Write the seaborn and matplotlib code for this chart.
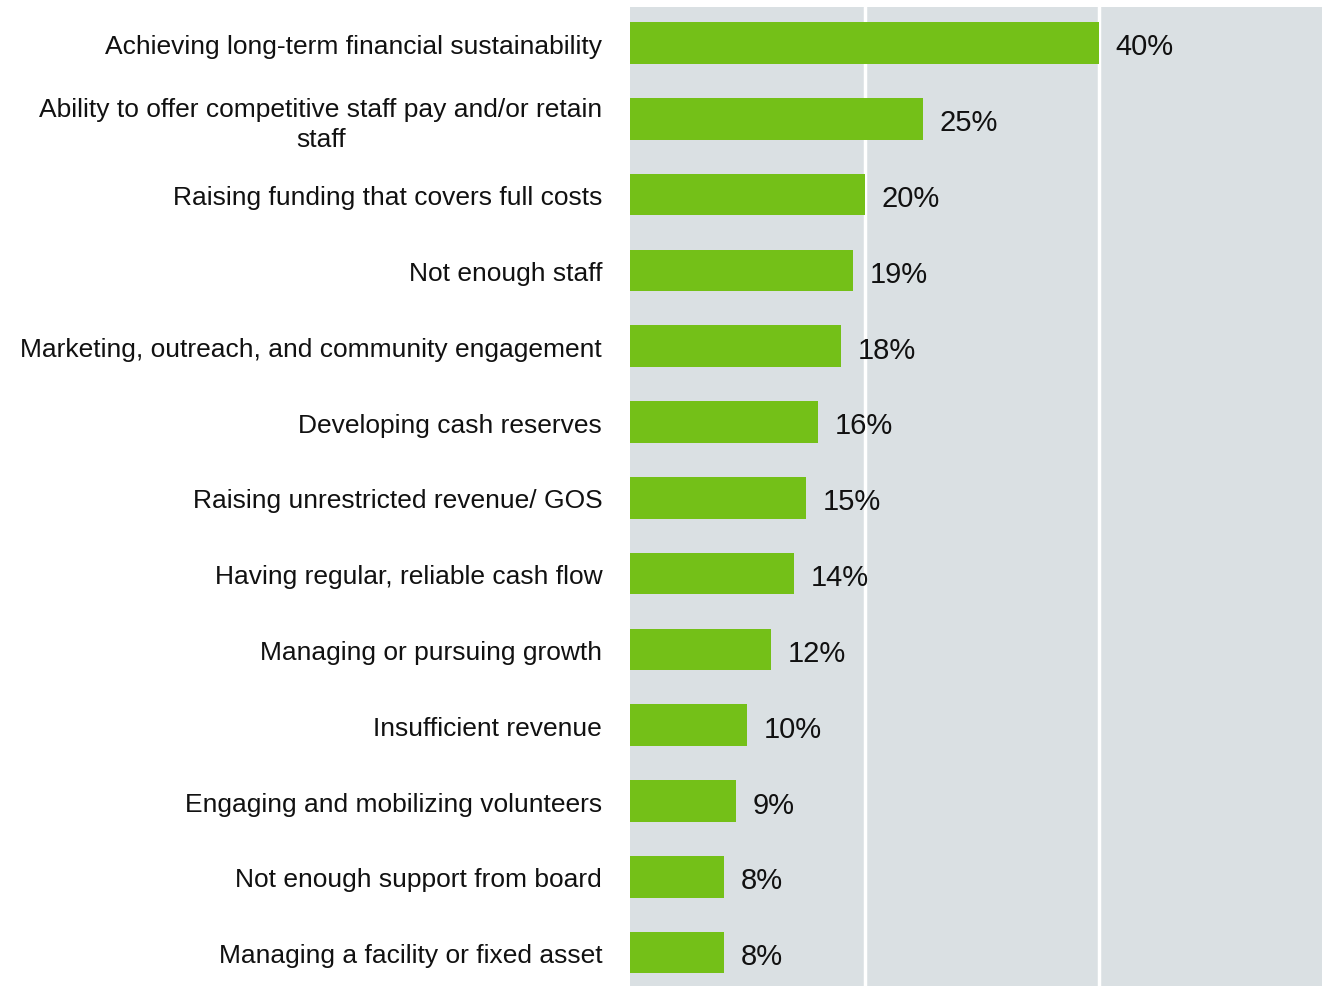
import matplotlib
matplotlib.use("Agg")
import matplotlib.pyplot as plt
import seaborn as sns
import pandas as pd

# Challenges reported, share of respondents (%)
challenges = [
    "Achieving long-term financial sustainability",
    "Ability to offer competitive staff pay and/or retain\nstaff",
    "Raising funding that covers full costs",
    "Not enough staff",
    "Marketing, outreach, and community engagement",
    "Developing cash reserves",
    "Raising unrestricted revenue/ GOS",
    "Having regular, reliable cash flow",
    "Managing or pursuing growth",
    "Insufficient revenue",
    "Engaging and mobilizing volunteers",
    "Not enough support from board",
    "Managing a facility or fixed asset",
]
shares = [40, 25, 20, 19, 18, 16, 15, 14, 12, 10, 9, 8, 8]

df = pd.DataFrame({"challenge": challenges, "share": shares})

sns.set_theme(style="white")
plt.rcParams["font.family"] = ["Liberation Sans", "DejaVu Sans"]

BAR_GREEN = "#74C018"
PANEL_BG = "#DAE0E3"

fig = plt.figure(figsize=(13.22, 9.87), dpi=100)
ax = fig.add_axes([630 / 1322, 0.0, 1 - 630 / 1322, 1 - 8 / 987])
ax.set_facecolor(PANEL_BG)

sns.barplot(data=df, x="share", y="challenge", orient="h", color=BAR_GREEN,
            saturation=1, width=0.55, linewidth=0, ax=ax, zorder=3)

ax.set_xlim(0, 59)
ax.set_ylim(12.44, -0.475)
ax.set_xticks([20, 40])
ax.xaxis.grid(True, color="white", linewidth=2.5, zorder=1)
ax.set_axisbelow(True)
ax.tick_params(axis="x", bottom=False, labelbottom=False)
ax.tick_params(axis="y", left=False, pad=14, labelsize=19)
for lbl in ax.get_yticklabels():
    lbl.set_multialignment("center")
    lbl.set_linespacing(1.3)
    lbl.set_color("#111111")
ax.set_xlabel("")
ax.set_ylabel("")
for s in ax.spines.values():
    s.set_visible(False)

for container in ax.containers:
    anns = ax.bar_label(container, labels=[f"{v}%" for v in shares], padding=12,
                        fontsize=21, color="#111111")
    for a in anns:
        a.xyann = (12, -2.5)

fig.savefig("out.png", dpi=100)
